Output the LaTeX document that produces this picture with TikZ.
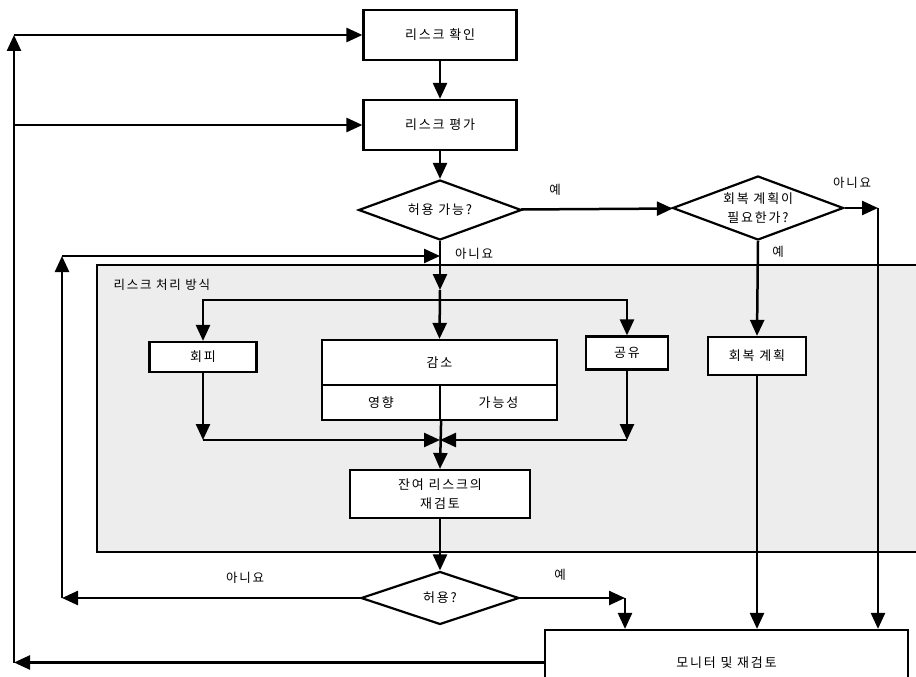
\documentclass[tikz,border=0pt]{standalone}
\usepackage{fontspec}
\newfontfamily\krfont{Noto Sans CJK KR}[LetterSpace=14]
\usetikzlibrary{arrows.meta,shapes.geometric}

\begin{document}
\begin{tikzpicture}[x=1pt,y=-1pt,
  box/.style={draw,line width=2.2pt,fill=white,inner sep=0pt,align=center,font=\krfont\fontsize{13}{19}\selectfont},
  decision/.style={box,diamond,aspect=2.6},
  flow/.style={line width=2.5pt,-{Triangle[length=16pt,width=14pt]}},
  lbl/.style={font=\krfont\fontsize{12.5}{15}\selectfont}]
\useasboundingbox (0,0) rectangle (916,677);
\draw[line width=2.2pt,fill=black!7] (97,265) rectangle (935,552);
\node[lbl,anchor=west] (treat) at (110,285) {리스크 처리 방식};

\node[box,minimum width=153,minimum height=50] (id) at (440,35) {리스크 확인};
\node[box,minimum width=153,minimum height=50] (ev) at (440,125) {리스크 평가};
\node[decision,minimum width=163,minimum height=60] (ok) at (440,210) {허용 가능?};
\node[decision,minimum width=171,minimum height=64] (rp) at (758,208) {회복 계획이\\필요한가?};
\node[box,minimum width=107,minimum height=30] (avoid) at (203,357) {회피};
\node[box,minimum width=235,minimum height=45] (red) at (439.5,362.5) {감소};
\node[box,minimum width=118,minimum height=35] (imp) at (381,402.5) {영향};
\node[box,minimum width=117,minimum height=35] (lik) at (498.5,402.5) {가능성};
\node[box,minimum width=82,minimum height=33] (share) at (627,353) {공유};
\node[box,minimum width=98,minimum height=38] (plan) at (757,356) {회복 계획};
\node[box,minimum width=180,minimum height=48] (rest) at (440,494) {잔여 리스크의\\재검토};
\node[decision,minimum width=158,minimum height=53] (acc) at (440,598) {허용?};
\node[box,minimum width=363,minimum height=65] (mon) at (726.5,662.5) {모니터 및 재검토};

\coordinate (tl) at (14,35);
\coordinate (ml) at (14,125);
\coordinate (bl) at (14,662.5);
\coordinate (rn) at (878,208);
\coordinate (in) at (440,290);
\coordinate (split) at (440,300);
\coordinate (retup) at (62,256);
\coordinate (ret) at (62,598);
\coordinate (avd) at (203,440);
\coordinate (shd) at (627,440);
\coordinate (merge) at (440,440);
\coordinate (yes) at (625,598);

\draw[flow] (id) -- (ev);
\draw[flow] (ev) -- (ok);
\draw[flow] (ok) -- (rp);
\draw[flow] (rp.east) -- (rn);
\draw[flow] (rn) -- (rn |- mon.north);
\draw[flow] (rp.south) -- (plan.north);
\draw[flow] (ok.south) -- (in);
\draw[flow] (in) -- (red.north);
\draw[flow] (split) -| (avoid.north);
\draw[flow] (split) -| (share.north);
\draw[flow] (avoid) -- (avd);
\draw[flow] (avd) -- (merge);
\draw[flow] (share) -- (shd);
\draw[flow] (shd) -- (merge);
\draw[flow] (imp.south east) -- (rest.north);
\draw[flow] (rest) -- (acc);
\draw[flow] (acc.west) -- (ret);
\draw[flow] (ret) -- (retup);
\draw[flow] (retup) -- (retup -| ok.south);
\draw[flow] (acc.east) -- (yes);
\draw[flow] (yes) -- (yes |- mon.north);
\draw[flow] (plan) -- (plan |- mon.north);
\draw[flow] (mon.west) -- (bl);
\draw[flow] (bl) -- (tl);
\draw[flow] (tl) -- (id.west);
\draw[flow] (ml) -- (ev.west);

\node[lbl] (y1) at (555,190) {예};
\node[lbl] (n1) at (852,183) {아니요};
\node[lbl] (y2) at (778,252) {예};
\node[lbl] (n2) at (474,254) {아니요};
\node[lbl] (n3) at (245,578) {아니요};
\node[lbl] (y3) at (560,575) {예};
\end{tikzpicture}
\end{document}
